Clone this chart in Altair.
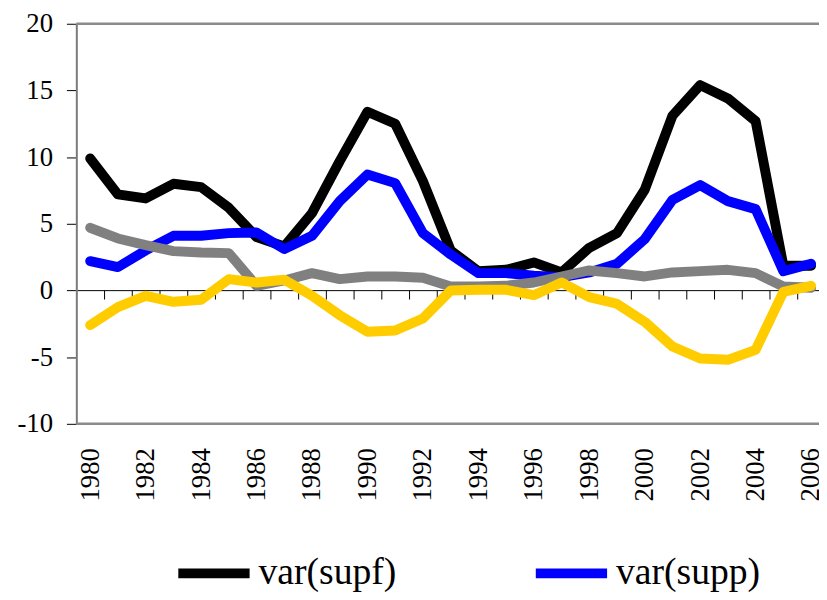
import altair as alt
import pandas as pd

years = list(range(1980, 2007))
var_supf = [9.9, 7.2, 6.9, 8.0, 7.75, 6.2, 4.0, 3.3, 5.8, 9.7, 13.4, 12.5, 8.2, 3.0,
            1.45, 1.55, 2.1, 1.35, 3.2, 4.3, 7.55, 13.1, 15.4, 14.4, 12.7, 1.85, 1.85]
var_supp = [2.2, 1.75, 3.0, 4.1, 4.1, 4.3, 4.35, 3.1, 4.1, 6.7, 8.7, 8.05, 4.3, 2.7,
            1.3, 1.3, 1.1, 1.0, 1.35, 2.0, 3.85, 6.8, 7.9, 6.7, 6.1, 1.45, 2.0]
var_resid = [4.7, 3.9, 3.4, 2.95, 2.85, 2.8, 0.35, 0.75, 1.3, 0.85, 1.05, 1.05, 0.95, 0.3,
             0.3, 0.35, 0.6, 1.05, 1.5, 1.3, 1.05, 1.35, 1.45, 1.55, 1.3, 0.3, 0.2]
cov_term = [-2.6, -1.25, -0.4, -0.85, -0.7, 0.85, 0.6, 0.8, -0.4, -1.85, -3.1, -3.0, -2.1, 0.0,
            0.05, 0.05, -0.35, 0.6, -0.5, -1.0, -2.35, -4.2, -5.1, -5.2, -4.45, -0.1, 0.35]

series_names = ["var(supf)", "var(supp)", "var(resid)", "2cov(supp,resid)"]
series_colors = ["#000000", "#0000FF", "#808080", "#FFCC00"]
legend_names = ["var(supf)", "var(supp)"]
y_ticks = [-10, -5, 0, 5, 10, 15, 20]
x_label_years = list(range(1980, 2007, 2))
x_boundaries = [y + 0.5 for y in range(1980, 2006)]
frame_levels = [20, -10]

rows = []
for name, vals in zip(series_names, [var_supf, var_supp, var_resid, cov_term]):
    for yr, v in zip(years, vals):
        rows.append({"year": yr, "value": v, "series": name})
df = pd.DataFrame(rows)

W, H = 750, 404
px_per_year = 28
xdomain = [1979.5, 1979.5 + W / px_per_year]
xscale = alt.Scale(domain=xdomain, zero=False, nice=False)
yscale = alt.Scale(domain=[-10, 20], nice=False, zero=False)
FONT = "Liberation Serif"

yaxis = alt.Axis(values=y_ticks, title=None, grid=False, labelFont=FONT, labelFontSize=27,
                 labelColor="black", tickColor="black", tickSize=10, tickWidth=1,
                 labelPadding=14, domainColor="#7a7a7a", domainWidth=2,
                 labelExpr="datum.value < 0 ? '-' + abs(datum.value) : '' + datum.value")

label_axis = alt.Axis(values=x_label_years, title=None, grid=False, orient="bottom",
                      labelAngle=-90, labelFont=FONT, labelFontSize=27, labelColor="black",
                      ticks=False, tickSize=0, domain=False, labelPadding=24, format="d",
                      labelOverlap=False)
tick_axis = alt.Axis(values=x_boundaries, title=None, grid=False, orient="bottom",
                     labels=False, tickSize=9, tickColor="black", tickWidth=1,
                     domainColor="black", domainWidth=1, offset=-135)

color = alt.Color("series:N",
                  scale=alt.Scale(domain=series_names, range=series_colors),
                  legend=alt.Legend(values=legend_names, title=None, orient="none",
                                    legendX=98, legendY=514, direction="horizontal",
                                    symbolType="stroke", symbolSize=5184,
                                    symbolStrokeWidth=10, labelFont=FONT,
                                    labelFontSize=38, labelColor="black",
                                    labelOffset=4, columnPadding=120, labelLimit=400))

lines = alt.Chart(df).mark_line(strokeWidth=10, strokeCap="round", strokeJoin="round").encode(
    x=alt.X("year:Q", scale=xscale, axis=label_axis),
    y=alt.Y("value:Q", scale=yscale, axis=yaxis),
    color=color,
    detail="series:N",
)

ticks_layer = alt.Chart(df).mark_line(opacity=0).encode(
    x=alt.X("year:Q", scale=xscale, axis=tick_axis),
    y=alt.Y("value:Q", scale=yscale, axis=yaxis),
)

frame = alt.Chart(pd.DataFrame({"lvl": frame_levels})).mark_rule(
    color="#8a8a8a", strokeWidth=2.5).encode(
    y=alt.Y("lvl:Q", scale=yscale, axis=yaxis),
    x=alt.value(0), x2=alt.value(W),
)

chart = alt.layer(frame, ticks_layer, lines).resolve_axis(x="independent").properties(
    width=W, height=H,
    autosize=alt.AutoSizeParams(type="none"),
    padding={"left": 69, "top": 13, "right": 0, "bottom": 175},
).configure_view(stroke=None)

chart.save("out.html", embed_options={"renderer": "svg", "actions": False})
